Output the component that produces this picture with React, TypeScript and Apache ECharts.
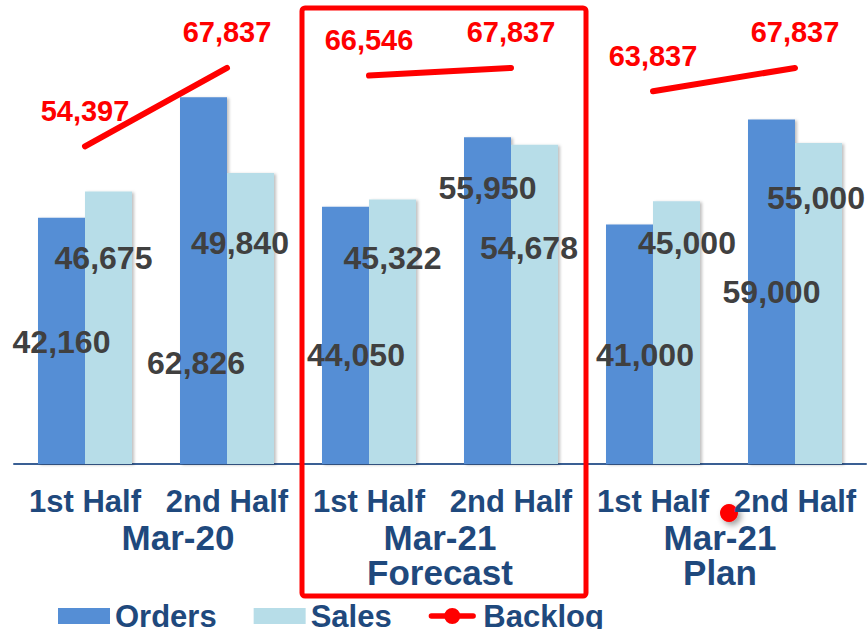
import React, { useEffect, useRef } from "react";
import * as echarts from "echarts";

const categories = ["1st Half", "2nd Half", "1st Half", "2nd Half", "1st Half", "2nd Half"];
const groups = ["Mar-20", "Mar-21\nForecast", "Mar-21\nPlan"];
const orders = [42160, 62826, 44050, 55950, 41000, 59000];
const sales = [46675, 49840, 45322, 54678, 45000, 55000];
const backlogMar20 = [54397, 67837];
const backlogForecast = [66546, 67837];
const backlogPlan = [63837, 67837];

// label placement tweaks (pixel offsets from bar top-centre)
const ordersLabelShift = [[0, 124], [-7.5, 266], [10.5, 148], [0, 51], [15.5, 130], [0, 172]];
const salesLabelShift = [[-5, 66.5], [-10.5, 70], [0, 58.6], [-5.5, 103], [10.5, 42], [-2.5, 55]];
// horizontal nudge of the group labels
const groupLabelShift = [22, 0, -4];

const FONT = "'Liberation Sans', Arial, sans-serif";
const NAVY = "#1f497d";
const fmt = (v: number) => Number(v).toLocaleString("en-US");

export default function App() {
  const ref = useRef<HTMLDivElement>(null);
  useEffect(() => {
    if (!ref.current) return;
    const chart = echarts.init(ref.current, null, { renderer: "svg" });

    const backlogs = [backlogMar20, backlogForecast, backlogPlan];
    const lineSeries = backlogs.map((vals, g) => ({
      type: "line",
      name: "Backlog",
      xAxisIndex: 0,
      data: categories.map((_, i) => (Math.floor(i / 2) === g ? vals[i % 2] : "-")),
      symbol: "circle",
      symbolSize: 1,
      showSymbol: true,
      itemStyle: { color: "#ff0000" },
      lineStyle: { color: "#ff0000", width: 6, cap: "round" },
      label: {
        show: true,
        position: "top",
        distance: 21,
        fontFamily: FONT,
        fontSize: 29,
        fontWeight: "bold",
        lineHeight: 28,
        color: "#ff0000",
        formatter: (p: any) => fmt(p.value),
      },
      z: 3,
    }));

    const barLabel = {
      show: true,
      position: "insideTop",
      distance: 0,
      fontFamily: FONT,
      fontSize: 32,
      fontWeight: "bold",
      lineHeight: 32,
      color: "#404040",
      formatter: (p: any) => fmt(p.value),
    };
    const shadow = {
      shadowColor: "rgba(0,0,0,0.25)",
      shadowBlur: 3,
      shadowOffsetX: 2,
      shadowOffsetY: 1,
    };

    chart.setOption({
      animation: false,
      backgroundColor: "#ffffff",
      grid: { left: 14, right: 2, top: 55.3, bottom: 165, outerBoundsMode: "none", containLabel: false },
      legend: {
        left: 58,
        top: 600,
        padding: 0,
        itemWidth: 52,
        itemHeight: 16,
        itemGap: 37,
        textStyle: { fontFamily: FONT, fontSize: 31, fontWeight: "bold", color: NAVY, lineHeight: 32 },
        data: [
          { name: "Orders", icon: "rect" },
          { name: "Sales", icon: "rect" },
          {
            name: "Backlog",
            icon: "path://M3,6.5L55,6.5A3.5,3.5,0,0,1,55,13.5L3,13.5A3.5,3.5,0,0,1,3,6.5ZM19,10A10,10,0,1,1,39,10A10,10,0,1,1,19,10Z",
            itemStyle: { color: "#ff0000" },
          },
        ],
      },
      xAxis: [
        {
          type: "category",
          data: categories,
          position: "bottom",
          axisLine: { show: true, lineStyle: { color: "#3a5f94", width: 2 } },
          axisTick: { show: false },
          axisLabel: {
            interval: 0,
            margin: 21,
            fontFamily: FONT,
            fontSize: 31,
            fontWeight: "bold",
            lineHeight: 33,
            color: NAVY,
          },
        },
        {
          type: "category",
          data: groups.map((g, i) => {
            const s = groupLabelShift[i];
            return {
              value: g,
              textStyle: { padding: s >= 0 ? [0, 0, 0, 2 * s] : [0, -2 * s, 0, 0] },
            };
          }),
          position: "bottom",
          offset: 0,
          axisLine: { show: false },
          axisTick: { show: false },
          axisLabel: {
            interval: 0,
            margin: 56,
            fontFamily: FONT,
            fontSize: 35,
            fontWeight: "bold",
            lineHeight: 35,
            color: NAVY,
          },
        },
      ],
      yAxis: { type: "value", min: 0, max: 70000, show: false, splitLine: { show: false } },
      series: [
        {
          type: "bar",
          name: "Orders",
          xAxisIndex: 0,
          barWidth: 47,
          barGap: "0%",
          itemStyle: { color: "#558ed5", ...shadow },
          label: barLabel,
          data: orders.map((v, i) => ({
            value: v,
            label: { offset: [ordersLabelShift[i][0], ordersLabelShift[i][1] - 16] },
          })),
        },
        {
          type: "bar",
          name: "Sales",
          xAxisIndex: 0,
          barWidth: 47,
          barGap: "0%",
          itemStyle: { color: "#b7dde8", ...shadow },
          label: barLabel,
          data: sales.map((v, i) => ({
            value: v,
            label: { offset: [salesLabelShift[i][0], salesLabelShift[i][1] - 16] },
          })),
        },
        ...lineSeries,
      ],
      graphic: [
        {
          type: "rect",
          shape: { x: 302, y: 8, width: 284, height: 588, r: 3 },
          style: { fill: "none", stroke: "#ff0000", lineWidth: 5 },
          z: 10,
          silent: true,
        },
        {
          type: "circle",
          shape: { cx: 729, cy: 513, r: 9 },
          style: {
            fill: "#ff0000",
            shadowBlur: 6,
            shadowColor: "rgba(0,0,0,0.4)",
            shadowOffsetX: 3,
            shadowOffsetY: 3,
          },
          z: 0,
          silent: true,
        },
      ],
    });
    return () => chart.dispose();
  }, []);
  return (
    <div
      ref={ref}
      style={{ position: "fixed", left: 0, top: 0, width: 868, height: 629 }}
    />
  );
}
